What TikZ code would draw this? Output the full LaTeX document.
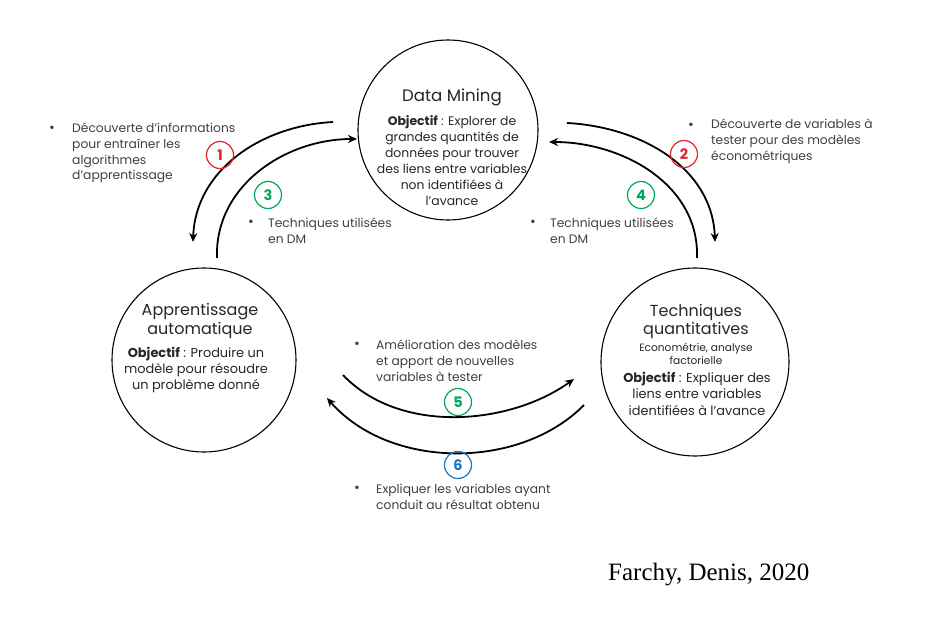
\documentclass[tikz,border=0pt]{standalone}
\usepackage{fontspec}
\setmainfont{Poppins}
\newfontfamily\timesfont{Liberation Serif}
\usetikzlibrary{arrows.meta}
\definecolor{numred}{HTML}{E8202A}
\definecolor{numgreen}{HTML}{00A859}
\definecolor{numblue}{HTML}{1B75BC}
\definecolor{labgray}{HTML}{404040}
\tikzset{
  bigcircle/.style={draw=black, line width=1.1pt, circle, inner sep=0pt},
  flow/.style={line width=1.8pt, -{Stealth[length=9pt,width=8pt]}},
  numcircle/.style={draw=#1, text=#1, line width=1.2pt, circle, minimum size=27pt, inner sep=0pt, font=\fontsize{14.5}{14.5}\selectfont\bfseries},
  label/.style={text=labgray, align=left, anchor=west, inner sep=0pt, font=\fontsize{12.3}{15.8}\selectfont},
  bullet/.style={text=labgray, anchor=west, inner sep=0pt, font=\fontsize{14}{15.8}\selectfont},
  title/.style={text=black!85, align=center, inner sep=0pt},
  body/.style={text=black!85, align=center, inner sep=0pt, font=\fontsize{12.4}{16}\selectfont},
}
\begin{document}
\begin{tikzpicture}[x=1pt,y=-1pt]
\useasboundingbox (0,0) rectangle (938,623);
% main circles
\node[bigcircle, minimum size=180pt] (dm) at (448,130) {};
\node[bigcircle, minimum size=184pt] (ap) at (204,360) {};
\node[bigcircle, minimum size=188pt] (tq) at (695,362) {};
% Data Mining text
\node[title, font=\fontsize{16.6}{18}\selectfont] (dmt) at (452,97) {Data Mining};
\node[body] (dmb) at (452,161) {\textbf{Objectif} : Explorer de\\grandes quantités de\\données pour trouver\\des liens entre variables\\non identifiées à\\l'avance};
% Apprentissage text
\node[title, font=\fontsize{16}{19}\selectfont] (apt) at (200,320.5) {Apprentissage\\automatique};
\node[body, font=\fontsize{12.9}{16}\selectfont] (apb) at (196,370) {\textbf{Objectif} : Produire un\\modèle pour résoudre\\un problème donné};
% Techniques text
\node[title, font=\fontsize{16}{18}\selectfont] (tqt) at (696,321) {Techniques\\quantitatives};
\node[body, font=\fontsize{10.6}{13}\selectfont] (tqs) at (696,353.5) {Econométrie, analyse\\factorielle};
\node[body, font=\fontsize{12.9}{16.5}\selectfont] (tqb) at (697,393.5) {\textbf{Objectif} : Expliquer des\\liens entre variables\\identifiées à l'avance};
% arrow end points
\coordinate (a1s) at (333,122);
\coordinate (a1e) at (193,242);
\coordinate (a3s) at (217,258);
\coordinate (a3e) at (357,139);
\coordinate (a2s) at (567,123);
\coordinate (a2e) at (715,242);
\coordinate (a4s) at (697,258);
\coordinate (a4e) at (549,142);
\coordinate (a5s) at (343,375);
\coordinate (a5e) at (574,379);
\coordinate (a6s) at (584,405);
\coordinate (a6e) at (327,398);
% arrows
\draw[flow] (a1s) to[out=183,in=88] (a1e);
\draw[flow] (a3s) to[out=92,in=180] (a3e);
\draw[flow] (a2s) to[out=-3,in=92] (a2e);
\draw[flow] (a4s) to[out=88,in=0] (a4e);
\draw[flow] (a5s) .. controls (400,435) and (510,425) .. (a5e);
\draw[flow] (a6s) .. controls (520,470) and (390,470) .. (a6e);
% numbered circles
\node[numcircle=numred] (n1) at (220,155) {1};
\node[numcircle=numred] (n2) at (684,154) {2};
\node[numcircle=numgreen] (n3) at (268,195) {3};
\node[numcircle=numgreen] (n4) at (641,195) {4};
\node[numcircle=numgreen] (n5) at (458,402) {5};
\node[numcircle=numblue] (n6) at (458,465) {6};
% labels
\node[bullet] (b1) at (49,129) {•};
\node[label] (l1) at (72,153) {Découverte d'informations\\pour entraîner les\\algorithmes\\d'apprentissage};
\node[bullet] (b2) at (688,126) {•};
\node[label] (l2) at (711,141.5) {Découverte de variables à\\tester pour des modèles\\économétriques};
\node[bullet] (b3) at (248,223) {•};
\node[label] (l3) at (268,231) {Techniques utilisées\\en DM};
\node[bullet] (b4) at (530,223) {•};
\node[label] (l4) at (550,231) {Techniques utilisées\\en DM};
\node[bullet] (b5) at (354,345) {•};
\node[label] (l5) at (376,361) {Amélioration des modèles\\et apport de nouvelles\\variables à tester};
\node[bullet] (b6) at (354,489) {•};
\node[label] (l6) at (376,497) {Expliquer les variables ayant\\conduit au résultat obtenu};
% credit
\node[anchor=base west, inner sep=0pt, font=\timesfont\fontsize{25}{25}\selectfont] (cr) at (608,580) {Farchy, Denis, 2020};
\end{tikzpicture}
\end{document}
